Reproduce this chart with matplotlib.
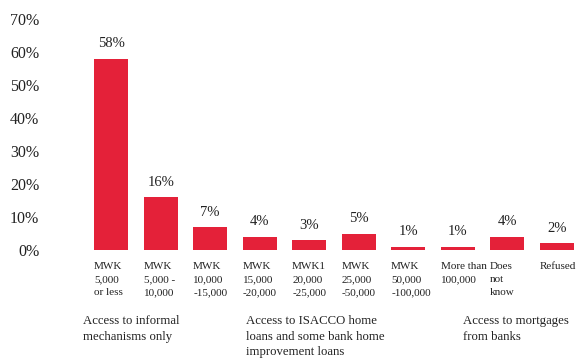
import matplotlib
matplotlib.use("Agg")
import matplotlib.pyplot as plt
from matplotlib.transforms import blended_transform_factory

plt.rcParams['font.family'] = ['Liberation Serif', 'DejaVu Serif']

categories = ["MWK\n5,000\nor less", "MWK\n5,000 -\n10,000", "MWK\n10,000\n-15,000",
              "MWK\n15,000\n-20,000", "MWK1\n20,000\n-25,000", "MWK\n25,000\n-50,000",
              "MWK\n50,000\n-100,000", "More than\n100,000", "Does\nnot\nknow", "Refused"]
values = [58, 16, 7, 4, 3, 5, 1, 1, 4, 2]
yticks = [0, 10, 20, 30, 40, 50, 60, 70]
groups = ["Access to informal\nmechanisms only",
          "Access to ISACCO home\nloans and some bank home\nimprovement loans",
          "Access to mortgages\nfrom banks"]
group_x = [83, 246, 463]

W, H = 577, 359
fig = plt.figure(figsize=(W / 100, H / 100), dpi=100)
ax = fig.add_axes([85 / W, 1 - 250 / H, 492 / W, 231 / H])

bar_w = 0.69
color = "#E42139"
xs = list(range(len(values)))
ax.bar(xs, values, width=bar_w, color=color)
ax.set_xlim(-0.53, 9.41)
ax.set_ylim(0, 70)

for s in ax.spines.values():
    s.set_visible(False)
ax.set_xticks([])
ax.set_yticks(yticks)
ax.set_yticklabels([f"{t}%" for t in yticks], fontsize=11.5, color="#222222")
ax.tick_params(axis='y', length=0, pad=33)

for x, v in zip(xs, values):
    ax.annotate(f"{v}%", (x, v), xytext=(0, 6), textcoords="offset points",
                ha="center", va="bottom", fontsize=10.5, color="#222222")

tr = blended_transform_factory(ax.transData, ax.transAxes)
for x, lab in zip(xs, categories):
    ax.text(x - bar_w / 2, -0.052, lab, transform=tr, ha="left", va="top",
            fontsize=8, linespacing=1.6, color="#222222")

for gx, g in zip(group_x, groups):
    fig.text(gx / W, 1 - 315 / H, g, ha="left", va="top", fontsize=9.2,
             linespacing=1.4, color="#222222")

fig.savefig("out.png", dpi=100)
